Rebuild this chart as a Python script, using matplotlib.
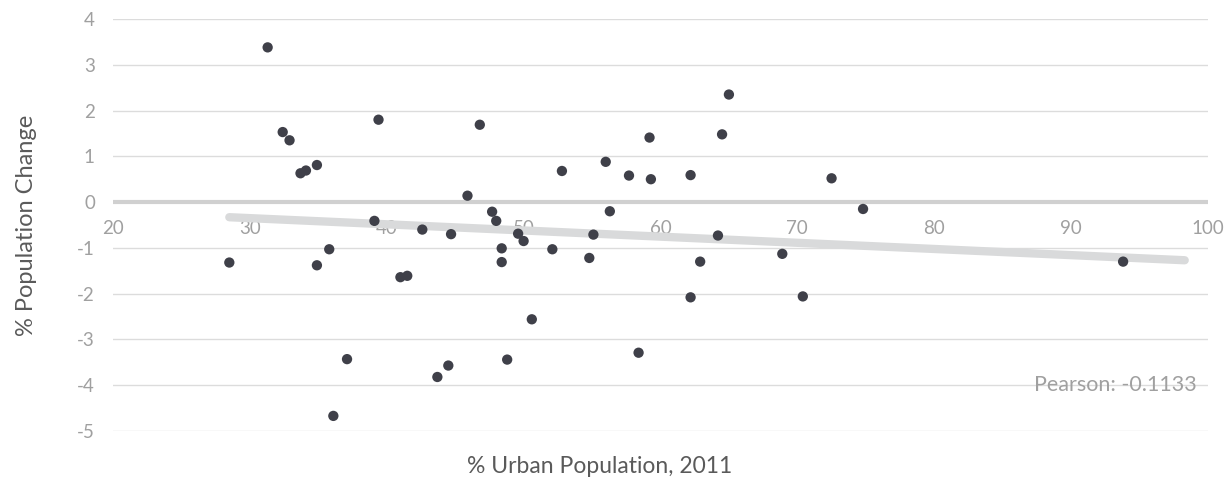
import matplotlib
matplotlib.use('Agg')
import matplotlib.pyplot as plt

# urban population share (x) vs population change (y)
urban = [31.3, 32.4, 32.9, 33.7, 34.1, 34.9, 39.4, 46.8, 45.9, 47.7,
         48.0, 39.1, 42.6, 44.7, 28.5, 34.9, 35.8, 41.0, 41.5, 37.1,
         36.1, 43.7, 44.5, 48.4, 48.4, 49.6, 50.0, 52.1, 54.8, 55.1,
         56.3, 64.2, 62.9, 62.2, 50.6, 48.8, 58.4, 52.8, 56.0, 57.7,
         59.2, 59.3, 62.2, 64.5, 65.0, 72.5, 74.8, 68.9, 70.4, 93.8]
change = [3.38, 1.53, 1.35, 0.63, 0.69, 0.81, 1.80, 1.69, 0.14, -0.21,
          -0.41, -0.41, -0.60, -0.70, -1.32, -1.38, -1.03, -1.64, -1.61, -3.43,
          -4.67, -3.82, -3.57, -1.01, -1.31, -0.69, -0.85, -1.03, -1.22, -0.71,
          -0.20, -0.73, -1.30, -2.08, -2.56, -3.44, -3.29, 0.68, 0.88, 0.58,
          1.41, 0.50, 0.59, 1.48, 2.35, 0.52, -0.15, -1.13, -2.06, -1.30]

# trend line end points
trend_x = [28.5, 98.3]
trend_y = [-0.33, -1.27]

x_ticks = [20, 30, 40, 50, 60, 70, 80, 90, 100]
y_ticks = [-5, -4, -3, -2, -1, 0, 1, 2, 3, 4]

plt.rcParams['font.family'] = ['Lato', 'DejaVu Sans']
plt.rcParams['axes.unicode_minus'] = False

fig = plt.figure(figsize=(12.32, 4.82), dpi=100)
ax = fig.add_axes([0.0917, 0.1058, 0.8888, 0.8548])

ax.set_xlim(20, 100)
ax.set_ylim(-5, 4)
ax.set_xticks(x_ticks)
ax.set_yticks(y_ticks)

for v in y_ticks:
    if v == 0:
        ax.axhline(v, color='#d0d0d0', lw=3, zorder=1)
    else:
        ax.axhline(v, color='#dcdcdc', lw=1, zorder=1)

ax.plot(trend_x, trend_y, color='#d9dadb', lw=6, solid_capstyle='round', zorder=2)
ax.scatter(urban, change, s=55, color='#3f4049', edgecolors='none', zorder=3)

for s in ['top', 'right', 'left']:
    ax.spines[s].set_visible(False)
ax.spines['bottom'].set_position(('data', 0))
ax.spines['bottom'].set_visible(False)

ax.tick_params(axis='both', length=0, labelsize=13.5, labelcolor='#a0a0a0')
ax.tick_params(axis='y', pad=13)
ax.tick_params(axis='x', pad=13)

ax.set_xlabel('% Urban Population, 2011', fontsize=16.5, color='#5a5a5a', va='center')
ax.set_ylabel('% Population Change', fontsize=17, color='#5a5a5a', va='center')
ax.xaxis.set_label_coords(0.444, -0.087)
ax.yaxis.set_label_coords(-0.079, 0.5)

ax.text(0.99, 0.111, 'Pearson: -0.1133', transform=ax.transAxes,
        ha='right', va='center', fontsize=15.5, color='#a0a0a0')

fig.savefig('out.png', dpi=100)
